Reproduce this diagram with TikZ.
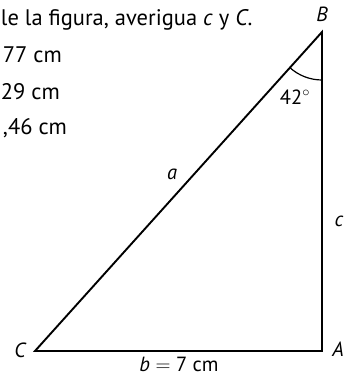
\documentclass[tikz,border=0pt]{standalone}
\usepackage{fontspec}
\setmainfont{PT Sans}
\begin{document}
\begin{tikzpicture}[x=1pt,y=1pt,line width=1.9pt,
  txt/.style={anchor=base west,inner sep=0pt,font=\fontsize{22.5}{26}\selectfont},
  lbl/.style={inner sep=0pt,font=\fontsize{20.5}{24}\selectfont\itshape}]
\useasboundingbox (0,0) rectangle (348,377);
% statement lines
\node[txt] (t1) at (0,351) {le la figura, averigua \textit{c} y \textit{C}.};
\node[txt] (t2) at (2,314) {77 cm}; \node[txt] (t3) at (0,277) {29 cm}; \node[txt] (t4) at (2,242) {,46 cm};
% triangle
\coordinate (C) at (35,26); \coordinate (A) at (322,26); \coordinate (B) at (322,345);
\draw[line join=miter] (C)--(A)--(B)--cycle;
\draw[line width=1.2pt] ([shift={(228:48)}]B) arc (228:270:48);
\node[lbl] (lB) at (322,363) {B}; \node[lbl] (lC) at (20,27) {C}; \node[lbl] (lA) at (338,28) {A};
\node[lbl] (la) at (172,203) {a}; \node[lbl] (lc) at (339,156) {c};
\node[inner sep=0pt,font=\fontsize{20.5}{24}\selectfont] (ang) at (295,280) {42$^\circ$};
\node[inner sep=0pt,anchor=base,font=\fontsize{20.5}{24}\selectfont] (lb) at (179,5.5) {\textit{b} $=$ 7 cm};
\end{tikzpicture}
\end{document}
